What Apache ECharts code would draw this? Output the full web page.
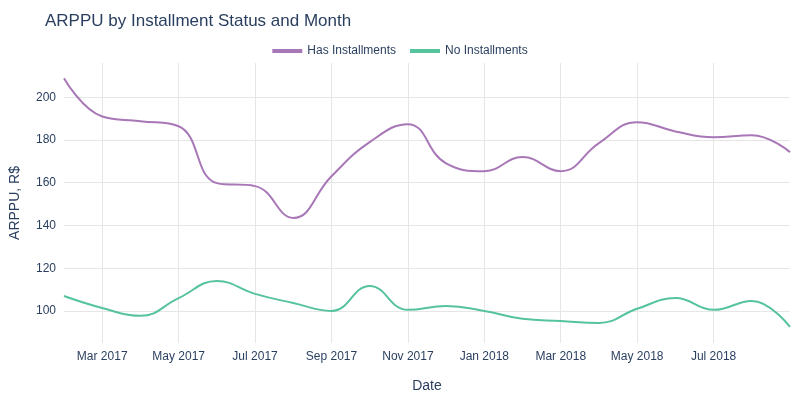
<!DOCTYPE html>
<html><head><meta charset="utf-8">
<script src="https://cdn.jsdelivr.net/npm/echarts@6/dist/echarts.min.js"></script>
<style>html,body{margin:0;padding:0;background:#fff}#c{width:800px;height:400px}</style>
</head><body><div id="c"></div>
<script>
var months = ['Feb 2017','Mar 2017','Apr 2017','May 2017','Jun 2017','Jul 2017','Aug 2017','Sep 2017','Oct 2017','Nov 2017','Dec 2017',
  'Jan 2018','Feb 2018','Mar 2018','Apr 2018','May 2018','Jun 2018','Jul 2018','Aug 2018','Sep 2018'];
var hasInst = [208.9,191,188.8,186.4,159.8,158.4,143.5,163,179,187.4,169,165.4,172,165.4,178.5,188.3,184,181.3,182.2,174.3];
var noInst = [107,101.4,97.7,106,114,108,103.7,100,111.7,100.5,102.3,100,96.3,95.3,94.4,101,106,100.5,104.7,92.5];
var xTicks = [1,3,5,7,9,11,13,15,17];
var yTicks = [100,120,140,160,180,200];

var chart = echarts.init(document.getElementById('c'));
var font = 'Liberation Sans, Arial, sans-serif';
chart.setOption({
  textStyle:{fontFamily:font},
  title:{text:'ARPPU by Installment Status and Month', left:40, top:8,
    textStyle:{fontSize:17, fontWeight:'normal', color:'#2a3f5f', fontFamily:font}},
  legend:{top:40, left:'center', icon:'rect', itemWidth:30, itemHeight:4, itemGap:14,
    textStyle:{fontSize:12, color:'#2a3f5f'}},
  grid:{left:62, right:10, top:63, bottom:57},
  xAxis:{type:'value', min:0, max:19,
    name:'Date', nameLocation:'middle', nameGap:36, nameTextStyle:{fontSize:14, color:'#2a3f5f'},
    axisLine:{show:false}, axisTick:{show:false, customValues:xTicks},
    splitLine:{show:true, lineStyle:{color:'#e6e6e6'}},
    axisLabel:{customValues:xTicks, color:'#2a3f5f', fontSize:12,
      formatter:function(v){ return months[Math.round(v)]; }}},
  yAxis:{type:'value', min:85, max:216,
    name:'ARPPU, R$', nameLocation:'middle', nameGap:42, nameTextStyle:{fontSize:14, color:'#2a3f5f'},
    axisLine:{show:false}, axisTick:{show:false, customValues:yTicks},
    splitLine:{show:true, lineStyle:{color:'#e6e6e6'}},
    axisLabel:{customValues:yTicks, color:'#2a3f5f', fontSize:12}},
  series:[
    {name:'Has Installments', type:'line', smooth:0.45, showSymbol:false,
      lineStyle:{width:2, color:'#a877b7'}, itemStyle:{color:'#a877b7'},
      data:hasInst.map(function(v,i){return [i, v];})},
    {name:'No Installments', type:'line', smooth:0.45, showSymbol:false,
      lineStyle:{width:2, color:'#55c39b'}, itemStyle:{color:'#55c39b'},
      data:noInst.map(function(v,i){return [i, v];})}
  ]
});
</script></body></html>
